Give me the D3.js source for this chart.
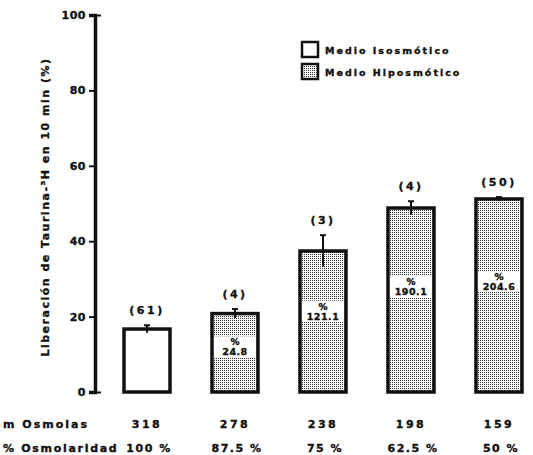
<!DOCTYPE html>
<html lang="es">
<head>
<meta charset="UTF-8">
<title>Liberación de Taurina</title>
<style>
    body { margin: 0; background: #fff; }
    svg { display: block; }
    text {
        font-family: "DejaVu Sans", Arial, sans-serif;
        font-weight: bold;
        fill: #111;
        stroke: #111;
        stroke-width: 0.35px;
    }
    .tick text { font-size: 11px; letter-spacing: 0.5px; }
</style>
<script src="https://cdn.jsdelivr.net/npm/d3@7"></script>
</head>
<body>
<svg width="533" height="455"></svg>
<script>
    // datos
    var mOsmolas = ["318", "278", "238", "198", "159"];
    var osmolaridad = ["100 %", "87.5 %", "75 %", "62.5 %", "50 %"];
    var liberacion = [16.7, 20.8, 37.4, 48.8, 51.2];
    var errores = [1.0, 1.2, 4.2, 1.8, 0.5];
    var nCasos = ["(61)", "(4)", "(3)", "(4)", "(50)"];
    var medio = ["iso", "hipo", "hipo", "hipo", "hipo"];
    var porcentaje = [null, "24.8", "121.1", "190.1", "204.6"];
    var yTicks = [0, 20, 40, 60, 80, 100];

    var svg = d3.select("svg");

    var x = d3.scalePoint().domain(mOsmolas).range([147, 499]);
    var y = d3.scaleLinear().domain([0, 100]).range([392, 15]);
    var barW = 46;

    // punteado de los medios hiposmoticos
    var pat = svg.append("defs").append("pattern")
        .attr("id", "puntos")
        .attr("width", 2).attr("height", 2)
        .attr("patternUnits", "userSpaceOnUse");
    pat.append("rect").attr("width", 2).attr("height", 2).attr("fill", "#fff");
    pat.append("rect").attr("width", 1).attr("height", 1).attr("fill", "#333");

    // eje y
    var axis = svg.append("g")
        .attr("transform", "translate(95,0)")
        .call(d3.axisLeft(y).tickValues(yTicks).tickSize(6).tickPadding(3));
    axis.select(".domain").attr("stroke-width", 3.5).attr("stroke", "#111");
    axis.selectAll(".tick line").attr("stroke-width", 2).attr("stroke", "#111");
    axis.selectAll(".tick").filter(function(d) { return d == 0 || d == 100; })
        .append("line")
        .attr("x1", 0).attr("x2", 6)
        .attr("stroke", "#111").attr("stroke-width", 2);

    svg.append("text")
        .attr("transform", "translate(49,207) rotate(-90)")
        .attr("text-anchor", "middle")
        .style("font-size", "11px")
        .style("letter-spacing", "1.5px")
        .text("Liberación de Taurina-³H en 10 min (%)");

    // barras
    var bars = svg.selectAll("g.barra")
        .data(mOsmolas)
        .enter().append("g")
        .attr("class", "barra");

    bars.append("rect")
        .attr("x", function(d) { return x(d) - barW / 2; })
        .attr("y", function(d, i) { return y(liberacion[i]); })
        .attr("width", barW)
        .attr("height", function(d, i) { return y(0) - y(liberacion[i]); })
        .attr("fill", function(d, i) { return medio[i] == "iso" ? "#fff" : "url(#puntos)"; })
        .attr("stroke", "#111")
        .attr("stroke-width", 3.5);

    // barras de error
    bars.append("line")
        .attr("x1", function(d) { return x(d); })
        .attr("x2", function(d) { return x(d); })
        .attr("y1", function(d, i) { return y(liberacion[i] + errores[i]); })
        .attr("y2", function(d, i) { return y(liberacion[i] - errores[i]); })
        .attr("stroke", "#111").attr("stroke-width", 2);
    bars.append("line")
        .attr("x1", function(d) { return x(d) - 3; })
        .attr("x2", function(d) { return x(d) + 3; })
        .attr("y1", function(d, i) { return y(liberacion[i] + errores[i]); })
        .attr("y2", function(d, i) { return y(liberacion[i] + errores[i]); })
        .attr("stroke", "#111").attr("stroke-width", 2);

    // n de cada grupo
    bars.append("text")
        .attr("x", function(d) { return x(d); })
        .attr("y", function(d, i) { return y(liberacion[i] + errores[i]) - 11; })
        .attr("text-anchor", "middle")
        .style("font-size", "11px")
        .style("letter-spacing", "2.5px")
        .text(function(d, i) { return nCasos[i]; });

    // porcentaje dentro de las barras
    var inner = bars.filter(function(d, i) { return porcentaje[i] != null; });
    function labelY(i) { return y(Math.min(liberacion[i] * 0.57, 30)); }

    inner.append("rect")
        .attr("x", function(d) { return x(d) - barW / 2 + 2; })
        .attr("y", function(d, i) { return labelY(mOsmolas.indexOf(d)) - 11; })
        .attr("width", barW - 4)
        .attr("height", 21)
        .attr("fill", "#fff");
    inner.append("text")
        .attr("x", function(d) { return x(d); })
        .attr("y", function(d) { return labelY(mOsmolas.indexOf(d)) - 2; })
        .attr("text-anchor", "middle")
        .style("font-size", "9px")
        .text("%");
    inner.append("text")
        .attr("x", function(d) { return x(d); })
        .attr("y", function(d) { return labelY(mOsmolas.indexOf(d)) + 8; })
        .attr("text-anchor", "middle")
        .style("font-size", "9.5px")
        .style("letter-spacing", "0.5px")
        .text(function(d) { return porcentaje[mOsmolas.indexOf(d)]; });

    // filas inferiores
    svg.append("text")
        .attr("x", 3).attr("y", 428)
        .style("font-size", "11px")
        .style("letter-spacing", "2px")
        .text("m Osmolas");
    svg.append("text")
        .attr("x", 3).attr("y", 452)
        .style("font-size", "11px")
        .style("letter-spacing", "1.7px")
        .text("% Osmolaridad");

    svg.selectAll("text.mosm")
        .data(mOsmolas)
        .enter().append("text")
        .attr("class", "mosm")
        .attr("x", function(d) { return x(d); })
        .attr("y", 428)
        .attr("text-anchor", "middle")
        .style("font-size", "11px")
        .style("letter-spacing", "2.5px")
        .text(function(d) { return d; });

    svg.selectAll("text.osm")
        .data(osmolaridad)
        .enter().append("text")
        .attr("class", "osm")
        .attr("x", function(d, i) { return x(mOsmolas[i]) + 2; })
        .attr("y", 452)
        .attr("text-anchor", "middle")
        .style("font-size", "11px")
        .style("letter-spacing", "1.5px")
        .text(function(d) { return d; });

    // leyenda
    var legend = [
        { label: "Medio Isosmótico", fill: "#fff" },
        { label: "Medio Hiposmótico", fill: "url(#puntos)" }
    ];
    var lg = svg.selectAll("g.leyenda")
        .data(legend)
        .enter().append("g")
        .attr("class", "leyenda")
        .attr("transform", function(d, i) { return "translate(302," + (42 + i * 22) + ")"; });
    lg.append("rect")
        .attr("width", 16).attr("height", 15)
        .attr("fill", function(d) { return d.fill; })
        .attr("stroke", "#111").attr("stroke-width", 2.5);
    lg.append("text")
        .attr("x", 23).attr("y", 11.5)
        .style("font-size", "9.5px")
        .style("letter-spacing", "2px")
        .text(function(d) { return d.label; });
</script>
</body>
</html>
